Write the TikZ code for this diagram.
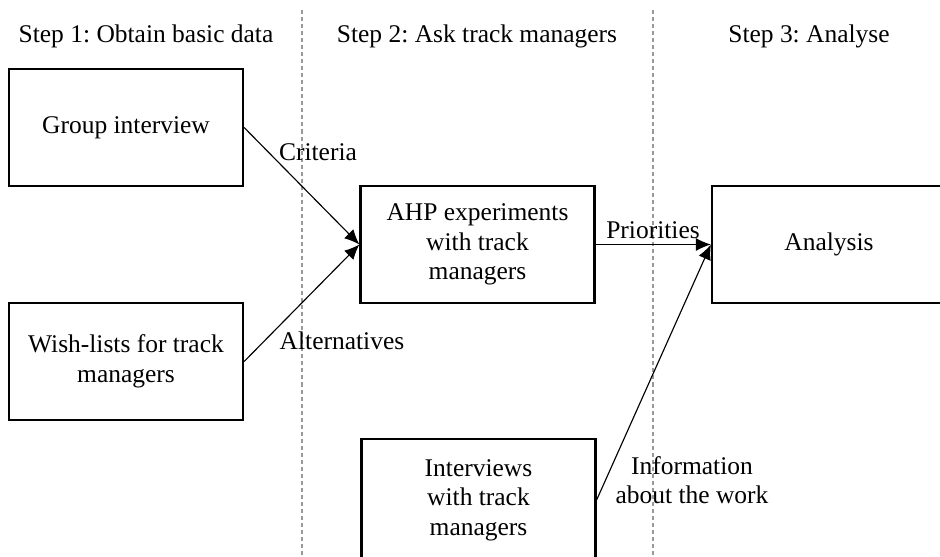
\documentclass[tikz,border=0pt]{standalone}
\usepackage{fontspec}
\setmainfont{Liberation Serif}
\usetikzlibrary{arrows.meta}
\frenchspacing

\begin{document}
\begin{tikzpicture}[
            x=0.02cm, y=-0.02cm,
            every node/.style={font=\fontsize{14.5}{16.8}\selectfont},
            box/.style={draw, line width=1.3pt, minimum width=4.68cm,
                minimum height=2.34cm, align=center, inner sep=0pt},
            flow/.style={line width=0.65pt, -{Latex[length=3mm, width=2.6mm]}},
            lane/.style={black!40, line width=0.6pt, dash pattern=on 2.3pt off 1.7pt}]
            \useasboundingbox (0,0) rectangle (940,556);
            \clip (0,0) rectangle (940,556);

            % lanes
            \draw[lane] (302,10) -- (302,556);
            \draw[lane] (653,10) -- (653,556);

            \node (step1) at (146,36) {Step 1: Obtain basic data};
            \node (step2) at (477,36) {Step 2: Ask track managers};
            \node (step3) at (809,36) {Step 3: Analyse};

            \node[box] (group) at (126,127.5) {Group interview};
            \node[box] (wish) at (126,361.5) {Wish-lists for track\\managers};
            \node[box] (ahp) at (477.5,244.5) {AHP experiments\\with track\\managers};
            \node[box, minimum height=2.44cm] (interv) at (478.5,500) {Interviews\\with track\\managers};
            \node[box] (analysis) at (829,244.5) {Analysis};

            \node (crit) at (318,152) {Criteria};
            \node (alt) at (342,341) {Alternatives};
            \node (prio) at (653,230) {Priorities};
            \node[align=center] (info) at (692,480) {Information\\about the work};

            \draw[flow] (group.east) -- (ahp.west);
            \draw[flow] (wish.east) -- (ahp.west);
            \draw[flow] (ahp.east) -- (analysis.west);
            \draw[flow] (interv.east) -- (analysis.west);

        \end{tikzpicture}
\end{document}
